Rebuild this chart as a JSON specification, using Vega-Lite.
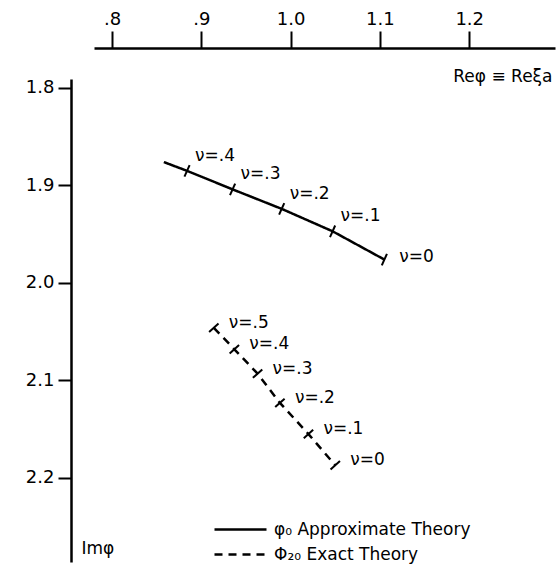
{
  "$schema": "https://vega.github.io/schema/vega-lite/v6.json",
  "width": 461,
  "height": 483,
  "autosize": {"type": "none"},
  "padding": {"left": 94, "top": 79, "right": 2, "bottom": 19},
  "config": {"view": {"stroke": null}, "font": "DejaVu Sans", "background": "white"},
  "datasets": {
    "curves": [
      {"series": "a", "label": "", "ord": 0, "re": 0.858, "im": 1.876},
      {"series": "a", "label": "ν=.4", "ord": 1, "re": 0.884, "im": 1.885},
      {"series": "a", "label": "ν=.3", "ord": 2, "re": 0.935, "im": 1.904},
      {"series": "a", "label": "ν=.2", "ord": 3, "re": 0.99, "im": 1.924},
      {"series": "a", "label": "ν=.1", "ord": 4, "re": 1.047, "im": 1.947},
      {"series": "a", "label": "ν=0", "ord": 5, "re": 1.105, "im": 1.976},
      {"series": "b", "label": "ν=.5", "ord": 0, "re": 0.914, "im": 2.046},
      {"series": "b", "label": "ν=.4", "ord": 1, "re": 0.937, "im": 2.068},
      {"series": "b", "label": "ν=.3", "ord": 2, "re": 0.963, "im": 2.093},
      {"series": "b", "label": "ν=.2", "ord": 3, "re": 0.988, "im": 2.123},
      {"series": "b", "label": "ν=.1", "ord": 4, "re": 1.02, "im": 2.155},
      {"series": "b", "label": "ν=0", "ord": 5, "re": 1.05, "im": 2.187}
    ]
  },
  "layer": [
    {
      "data": {"name": "curves"},
      "mark": {"type": "line", "color": "black", "strokeWidth": 2.5, "clip": false},
      "encoding": {
        "x": {"field": "re", "type": "quantitative",
          "scale": {"domain": [0.7798, 1.2961], "nice": false, "zero": false},
          "axis": {"orient": "top", "offset": 31, "values": [0.8, 0.9, 1.0, 1.1, 1.2],
            "labelExpr": "datum.value < 1 ? replace(format(datum.value, '.1f'), '0.', '.') : format(datum.value, '.1f')",
            "domainColor": "black", "domainWidth": 2.5, "tickColor": "black", "tickWidth": 2, "tickSize": 17,
            "labelFontSize": 18, "labelColor": "black", "labelPadding": 3, "grid": false,
            "title": "Reφ ≡ Reξa", "titleFontSize": 17, "titleFontWeight": "normal", "titleColor": "black",
            "titleAnchor": "end", "titleAlign": "right", "titleX": 458, "titleY": 28, "titleBaseline": "middle"}},
        "y": {"field": "im", "type": "quantitative",
          "scale": {"domain": [1.7908, 2.2862], "reverse": true, "nice": false, "zero": false},
          "axis": {"orient": "left", "offset": 23, "values": [1.8, 1.9, 2.0, 2.1, 2.2], "format": ".1f",
            "domainColor": "black", "domainWidth": 2.5, "tickColor": "black", "tickWidth": 2, "tickSize": 13,
            "labelFontSize": 18, "labelColor": "black", "labelPadding": 4, "grid": false,
            "title": "Imφ", "titleAngle": 0, "titleX": 10, "titleY": 469, "titleAlign": "left", "titleBaseline": "middle",
            "titleFontSize": 17, "titleFontWeight": "normal", "titleColor": "black"}},
        "strokeDash": {"field": "series", "type": "nominal",
          "scale": {"domain": ["a", "b"], "range": [[1, 0], [8, 6]]},
          "legend": {"orient": "none", "legendX": 119, "legendY": 436, "title": null,
            "labelExpr": "datum.label == 'a' ? 'φ₀  Approximate Theory' : 'Φ₂₀ Exact Theory'",
            "symbolType": "M-1,0L3,0", "symbolSize": 676, "symbolStrokeWidth": 2.5, "symbolStrokeColor": "black",
            "labelFontSize": 17, "labelColor": "black", "labelLimit": 400, "rowPadding": 2, "labelOffset": 32}},
        "order": {"field": "ord", "type": "quantitative"}
      }
    },
    {
      "data": {"name": "curves"},
      "transform": [{"filter": "datum.series == 'a' && datum.label != ''"}],
      "mark": {"type": "point", "shape": "M0,-1L0,1", "size": 160, "stroke": "black", "strokeWidth": 2, "filled": false, "opacity": 1, "angle": 24, "clip": false},
      "encoding": {
        "x": {"field": "re", "type": "quantitative"},
        "y": {"field": "im", "type": "quantitative"}
      }
    },
    {
      "data": {"name": "curves"},
      "transform": [{"filter": "datum.series == 'b'"}],
      "mark": {"type": "point", "shape": "M0,-1L0,1", "size": 160, "stroke": "black", "strokeWidth": 2, "filled": false, "opacity": 1, "angle": 48, "clip": false},
      "encoding": {
        "x": {"field": "re", "type": "quantitative"},
        "y": {"field": "im", "type": "quantitative"}
      }
    },
    {
      "data": {"name": "curves"},
      "transform": [{"filter": "datum.series == 'a' && datum.label != 'ν=0'"}],
      "mark": {"type": "text", "align": "left", "baseline": "middle", "dx": 8, "dy": -15, "fontSize": 17, "color": "black"},
      "encoding": {
        "x": {"field": "re", "type": "quantitative"},
        "y": {"field": "im", "type": "quantitative"},
        "text": {"field": "label"}
      }
    },
    {
      "data": {"name": "curves"},
      "transform": [{"filter": "datum.series == 'a' && datum.label == 'ν=0'"}],
      "mark": {"type": "text", "align": "left", "baseline": "middle", "dx": 15, "dy": -3, "fontSize": 17, "color": "black"},
      "encoding": {
        "x": {"field": "re", "type": "quantitative"},
        "y": {"field": "im", "type": "quantitative"},
        "text": {"field": "label"}
      }
    },
    {
      "data": {"name": "curves"},
      "transform": [{"filter": "datum.series == 'b'"}],
      "mark": {"type": "text", "align": "left", "baseline": "middle", "dx": 15, "dy": -5, "fontSize": 17, "color": "black"},
      "encoding": {
        "x": {"field": "re", "type": "quantitative"},
        "y": {"field": "im", "type": "quantitative"},
        "text": {"field": "label"}
      }
    },
    {
      "mark": {"type": "point", "shape": "triangle-right", "size": 90, "filled": true, "color": "black", "opacity": 1, "clip": false},
      "encoding": {
        "x": {"datum": 1.2905, "type": "quantitative"},
        "y": {"datum": 1.759, "type": "quantitative"}
      }
    },
    {
      "mark": {"type": "point", "shape": "triangle-down", "size": 90, "filled": true, "color": "black", "opacity": 1, "clip": false},
      "encoding": {
        "x": {"datum": 0.7541, "type": "quantitative"},
        "y": {"datum": 2.281, "type": "quantitative"}
      }
    },
    {
      "mark": {"type": "point", "shape": "M-1,0L1,0", "size": 100, "stroke": "black", "strokeWidth": 2, "filled": false, "opacity": 1, "clip": false},
      "encoding": {
        "x": {"datum": 0.7541, "type": "quantitative"},
        "y": {"datum": 1.7908, "type": "quantitative"}
      }
    },
    {
      "mark": {"type": "point", "shape": "M0,-1L0,1", "size": 200, "stroke": "black", "strokeWidth": 2, "filled": false, "opacity": 1, "clip": false},
      "encoding": {
        "x": {"datum": 0.7798, "type": "quantitative"},
        "y": {"datum": 1.759, "type": "quantitative"}
      }
    }
  ]
}
